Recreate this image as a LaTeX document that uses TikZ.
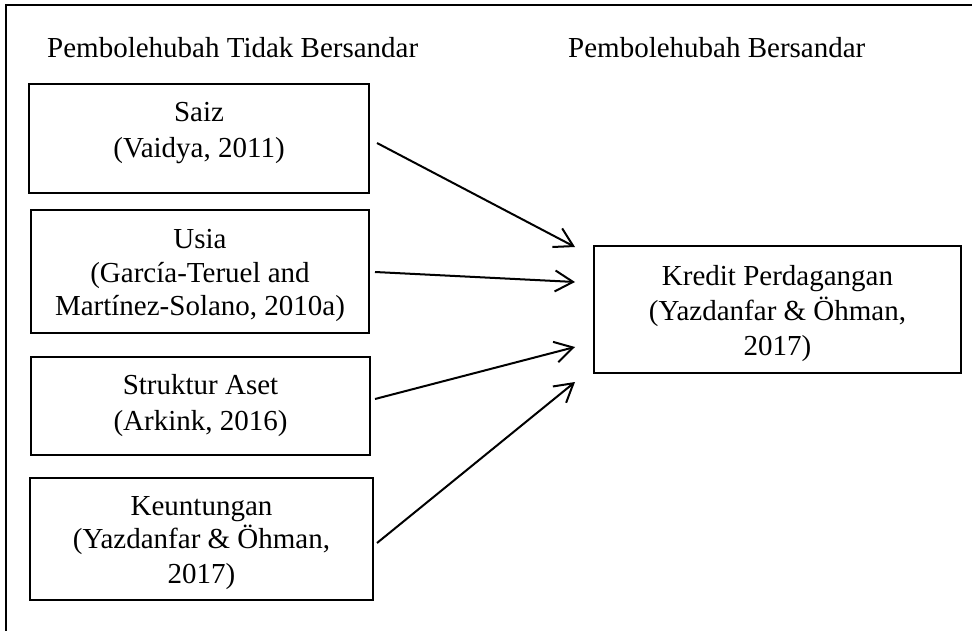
\documentclass[tikz,border=0pt]{standalone}
\usepackage{fontspec}
\setmainfont{Liberation Serif}
\usetikzlibrary{arrows.meta}
\begin{document}
\begin{tikzpicture}[x=1pt,y=-1pt,
  box/.style={draw=black, line width=2.2pt, inner sep=0pt, rectangle},
  lbl/.style={anchor=base, inner sep=0pt, font=\fontsize{29}{34}\selectfont},
  arr/.style={line width=2pt, -{Straight Barb[length=18pt,width=21pt,line width=2pt]}}]
\useasboundingbox (0,0) rectangle (972,631);
% outer frame (only top and left edges visible)
\draw[line width=2.4pt] (972,5) -- (6,5) -- (6,631);
% headers
\node[lbl, anchor=base west] (hind) at (47,58) {Pembolehubah Tidak Bersandar};
\node[lbl, anchor=base west] (hdep) at (568,58) {Pembolehubah Bersandar};
% boxes
\node[box, minimum width=340pt, minimum height=109pt] (saiz) at (199,138.5) {};
\node[box, minimum width=338pt, minimum height=123pt] (usia) at (200,271.5) {};
\node[box, minimum width=339pt, minimum height=98pt] (aset) at (200.5,406) {};
\node[box, minimum width=343pt, minimum height=122pt] (untung) at (201.5,539) {};
\node[box, minimum width=367pt, minimum height=127pt] (kredit) at (777.5,309.5) {};
% texts
\node[lbl] (saiz1) at (199,122) {Saiz};
\node[lbl] (saiz2) at (199,158) {(Vaidya, 2011)};
\node[lbl] (usia1) at (200,248) {Usia};
\node[lbl] (usia2) at (200,282) {(García-Teruel and};
\node[lbl] (usia3) at (200,315) {Martínez-Solano, 2010a)};
\node[lbl] (aset1) at (200.5,394) {Struktur Aset};
\node[lbl] (aset2) at (200.5,430) {(Arkink, 2016)};
\node[lbl] (untung1) at (201.5,515) {Keuntungan};
\node[lbl] (untung2) at (201.5,548.5) {(Yazdanfar \& Öhman,};
\node[lbl] (untung3) at (201.5,583) {2017)};
\node[lbl] (kredit1) at (777.5,285) {Kredit Perdagangan};
\node[lbl] (kredit2) at (777.5,320) {(Yazdanfar \& Öhman,};
\node[lbl] (kredit3) at (777.5,355) {2017)};
% arrow end points
\coordinate (s1) at (377,143);
\coordinate (s2) at (375,272);
\coordinate (s3) at (375,399);
\coordinate (s4) at (377,543);
\coordinate (e1) at (575,247);
\coordinate (e2) at (575,282);
\coordinate (e3) at (575,347);
\coordinate (e4) at (575,382);
\draw[arr] (s1) -- (e1);
\draw[arr] (s2) -- (e2);
\draw[arr] (s3) -- (e3);
\draw[arr] (s4) -- (e4);
\end{tikzpicture}
\end{document}
